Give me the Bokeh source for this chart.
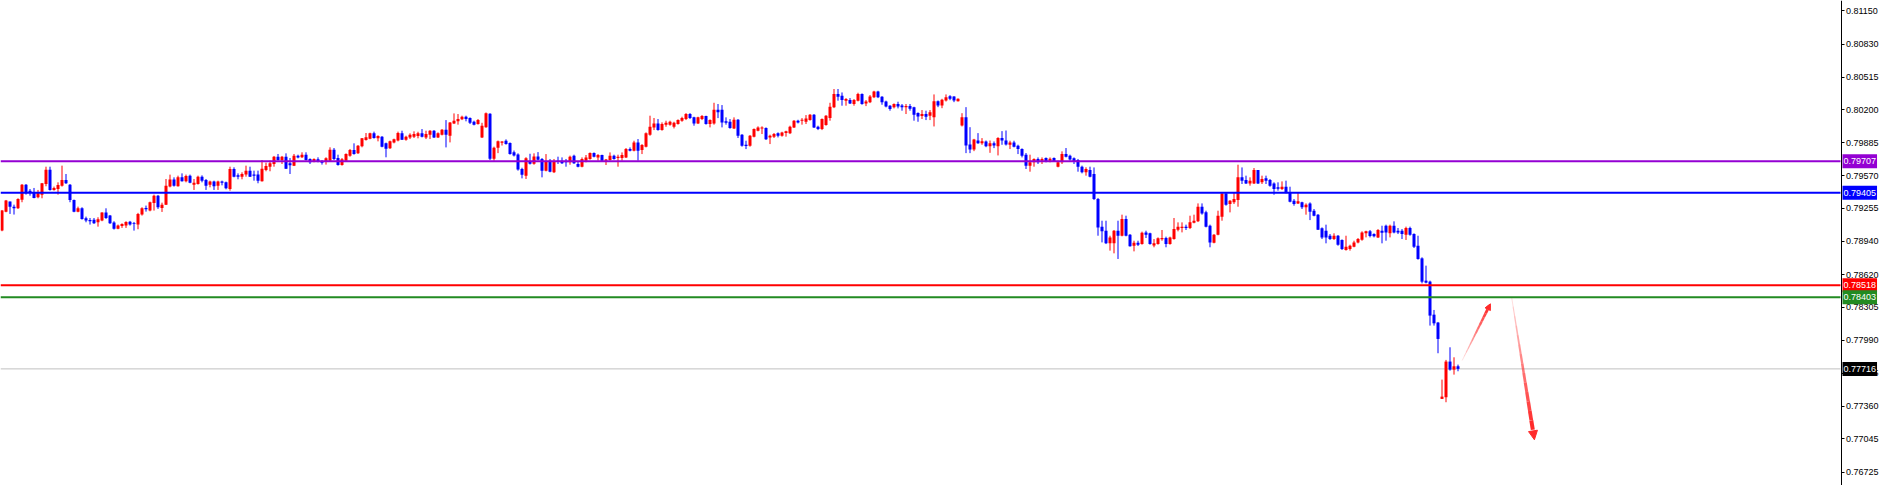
from bokeh.plotting import figure
from bokeh.models import (Range1d, FixedTicker, PrintfTickFormatter, Span, Label, Arrow,
                          NormalHead, BoxAnnotation)
from bokeh.embed import file_html
from bokeh.resources import INLINE

# ---- OHLC data (one bar per candle, oldest first) ----
open_ = [
    0.79042, 0.79224, 0.79320, 0.79272, 0.79256, 0.79339, 0.79483, 0.79425, 0.79403, 0.79361,
    0.79387, 0.79489, 0.79626, 0.79432, 0.79441, 0.79473, 0.79527, 0.79483, 0.79336, 0.79224,
    0.79256, 0.79160, 0.79144, 0.79147, 0.79122, 0.79138, 0.79215, 0.79186, 0.79119, 0.79061,
    0.79087, 0.79090, 0.79128, 0.79112, 0.79100, 0.79196, 0.79259, 0.79234, 0.79307, 0.79377,
    0.79259, 0.79291, 0.79464, 0.79531, 0.79467, 0.79553, 0.79515, 0.79569, 0.79483, 0.79489,
    0.79559, 0.79527, 0.79483, 0.79512, 0.79473, 0.79512, 0.79505, 0.79441, 0.79633, 0.79572,
    0.79559, 0.79579, 0.79617, 0.79579, 0.79579, 0.79515, 0.79623, 0.79655, 0.79681, 0.79751,
    0.79719, 0.79751, 0.79687, 0.79665, 0.79761, 0.79745, 0.79770, 0.79729, 0.79706, 0.79726,
    0.79706, 0.79703, 0.79713, 0.79818, 0.79738, 0.79671, 0.79713, 0.79761, 0.79815, 0.79783,
    0.79850, 0.79911, 0.79924, 0.79975, 0.79927, 0.79943, 0.79879, 0.79831, 0.79886, 0.79905,
    0.79975, 0.79914, 0.79936, 0.79943, 0.79949, 0.79975, 0.79936, 0.79962, 0.80000, 0.79936,
    0.79962, 0.80010, 0.79952, 0.80070, 0.80090, 0.80109, 0.80134, 0.80121, 0.80086, 0.80064,
    0.79936, 0.80034, 0.80162, 0.79731, 0.79836, 0.79884, 0.79904, 0.79882, 0.79794, 0.79772,
    0.79633, 0.79569, 0.79702, 0.79683, 0.79753, 0.79729, 0.79617, 0.79713, 0.79601, 0.79713,
    0.79713, 0.79713, 0.79697, 0.79761, 0.79681, 0.79655, 0.79713, 0.79729, 0.79786, 0.79744,
    0.79767, 0.79713, 0.79719, 0.79761, 0.79738, 0.79738, 0.79744, 0.79824, 0.79808, 0.79888,
    0.79815, 0.79847, 0.79962, 0.80032, 0.80070, 0.80006, 0.80058, 0.80058, 0.80038, 0.80064,
    0.80096, 0.80112, 0.80160, 0.80128, 0.80070, 0.80112, 0.80141, 0.80064, 0.80070, 0.80201,
    0.80201, 0.80090, 0.80086, 0.80022, 0.80105, 0.79962, 0.79866, 0.79856, 0.79943, 0.80000,
    0.80022, 0.80026, 0.79936, 0.79943, 0.79975, 0.79952, 0.79978, 0.79975, 0.80032, 0.80096,
    0.80096, 0.80086, 0.80102, 0.80153, 0.80038, 0.80016, 0.80054, 0.80121, 0.80224, 0.80352,
    0.80336, 0.80288, 0.80294, 0.80256, 0.80288, 0.80352, 0.80262, 0.80272, 0.80320, 0.80377,
    0.80326, 0.80281, 0.80240, 0.80224, 0.80256, 0.80243, 0.80224, 0.80236, 0.80224, 0.80169,
    0.80141, 0.80160, 0.80144, 0.80130, 0.80283, 0.80242, 0.80290, 0.80331, 0.80328, 0.80283,
    0.80050, 0.80130, 0.79868, 0.79820, 0.79906, 0.79881, 0.79897, 0.79852, 0.79881, 0.79852,
    0.79929, 0.79906, 0.79866, 0.79888, 0.79856, 0.79824, 0.79770, 0.79665, 0.79697, 0.79729,
    0.79713, 0.79738, 0.79713, 0.79738, 0.79655, 0.79697, 0.79776, 0.79760, 0.79735, 0.79719,
    0.79655, 0.79601, 0.79623, 0.79584, 0.79345, 0.79080, 0.79041, 0.78920, 0.78920, 0.79041,
    0.78993, 0.79153, 0.79003, 0.78897, 0.78926, 0.78913, 0.79025, 0.79016, 0.78900, 0.78913,
    0.78958, 0.78971, 0.78913, 0.78961, 0.79051, 0.79067, 0.79080, 0.79067, 0.79118, 0.79131,
    0.79271, 0.79217, 0.79089, 0.78926, 0.79003, 0.79175, 0.79399, 0.79297, 0.79313, 0.79335,
    0.79553, 0.79527, 0.79495, 0.79495, 0.79623, 0.79505, 0.79543, 0.79527, 0.79495, 0.79457,
    0.79441, 0.79463, 0.79409, 0.79329, 0.79303, 0.79313, 0.79265, 0.79303, 0.79233, 0.79195,
    0.79064, 0.79041, 0.78993, 0.78961, 0.78993, 0.78952, 0.78856, 0.78866, 0.78888, 0.78929,
    0.78955, 0.79016, 0.79035, 0.79009, 0.78977, 0.79041, 0.79089, 0.79016, 0.79089, 0.79041,
    0.79041, 0.79003, 0.79067, 0.79009, 0.78897, 0.78776, 0.78562, 0.78553, 0.78236, 0.78160,
    0.77428, 0.77444, 0.77786, 0.77709, 0.77741,
]
high = [
    0.79240, 0.79336, 0.79320, 0.79291, 0.79352, 0.79489, 0.79489, 0.79441, 0.79451, 0.79432,
    0.79499, 0.79655, 0.79655, 0.79464, 0.79505, 0.79665, 0.79585, 0.79489, 0.79340, 0.79272,
    0.79266, 0.79176, 0.79163, 0.79163, 0.79170, 0.79218, 0.79256, 0.79192, 0.79132, 0.79100,
    0.79112, 0.79132, 0.79135, 0.79125, 0.79212, 0.79266, 0.79282, 0.79320, 0.79387, 0.79384,
    0.79310, 0.79537, 0.79579, 0.79553, 0.79569, 0.79591, 0.79579, 0.79579, 0.79537, 0.79569,
    0.79572, 0.79537, 0.79521, 0.79521, 0.79521, 0.79521, 0.79512, 0.79655, 0.79649, 0.79591,
    0.79601, 0.79665, 0.79655, 0.79617, 0.79617, 0.79719, 0.79694, 0.79713, 0.79758, 0.79777,
    0.79758, 0.79783, 0.79738, 0.79777, 0.79770, 0.79793, 0.79793, 0.79735, 0.79735, 0.79745,
    0.79719, 0.79745, 0.79841, 0.79834, 0.79770, 0.79738, 0.79783, 0.79825, 0.79879, 0.79863,
    0.79930, 0.79978, 0.79981, 0.79991, 0.79956, 0.79949, 0.79886, 0.79905, 0.79924, 0.79991,
    0.80000, 0.79952, 0.79975, 0.79994, 0.79990, 0.80016, 0.80000, 0.80006, 0.80006, 0.79984,
    0.80016, 0.80102, 0.80083, 0.80166, 0.80160, 0.80144, 0.80144, 0.80128, 0.80096, 0.80112,
    0.80076, 0.80175, 0.80168, 0.79847, 0.79906, 0.79900, 0.79917, 0.79888, 0.79810, 0.79783,
    0.79645, 0.79746, 0.79779, 0.79783, 0.79795, 0.79738, 0.79776, 0.79729, 0.79729, 0.79751,
    0.79744, 0.79729, 0.79761, 0.79770, 0.79706, 0.79744, 0.79767, 0.79792, 0.79792, 0.79776,
    0.79770, 0.79729, 0.79792, 0.79770, 0.79770, 0.79792, 0.79834, 0.79840, 0.79904, 0.79920,
    0.79872, 0.79984, 0.80144, 0.80122, 0.80112, 0.80080, 0.80096, 0.80096, 0.80086, 0.80109,
    0.80134, 0.80169, 0.80169, 0.80134, 0.80134, 0.80150, 0.80144, 0.80109, 0.80268, 0.80256,
    0.80246, 0.80128, 0.80112, 0.80128, 0.80112, 0.79968, 0.79904, 0.79959, 0.80022, 0.80042,
    0.80042, 0.80032, 0.79962, 0.79978, 0.79984, 0.79990, 0.80000, 0.80048, 0.80102, 0.80105,
    0.80121, 0.80150, 0.80160, 0.80160, 0.80048, 0.80118, 0.80150, 0.80268, 0.80400, 0.80400,
    0.80367, 0.80313, 0.80313, 0.80304, 0.80364, 0.80358, 0.80294, 0.80342, 0.80383, 0.80383,
    0.80332, 0.80288, 0.80246, 0.80262, 0.80278, 0.80256, 0.80256, 0.80256, 0.80230, 0.80176,
    0.80198, 0.80192, 0.80198, 0.80348, 0.80290, 0.80306, 0.80348, 0.80341, 0.80331, 0.80310,
    0.80168, 0.80226, 0.80034, 0.79922, 0.79977, 0.79929, 0.79906, 0.79906, 0.79897, 0.79938,
    0.79996, 0.80002, 0.79904, 0.79904, 0.79866, 0.79831, 0.79786, 0.79770, 0.79735, 0.79744,
    0.79744, 0.79744, 0.79744, 0.79744, 0.79713, 0.79802, 0.79834, 0.79770, 0.79744, 0.79729,
    0.79665, 0.79649, 0.79655, 0.79648, 0.79355, 0.79137, 0.79137, 0.78993, 0.79048, 0.79137,
    0.79195, 0.79185, 0.79009, 0.78945, 0.78945, 0.79032, 0.79041, 0.79022, 0.78961, 0.78977,
    0.79048, 0.78984, 0.78984, 0.79163, 0.79121, 0.79121, 0.79099, 0.79185, 0.79195, 0.79303,
    0.79303, 0.79233, 0.79099, 0.79009, 0.79233, 0.79406, 0.79409, 0.79335, 0.79409, 0.79674,
    0.79648, 0.79569, 0.79553, 0.79642, 0.79623, 0.79569, 0.79569, 0.79537, 0.79505, 0.79505,
    0.79514, 0.79521, 0.79463, 0.79345, 0.79409, 0.79319, 0.79303, 0.79313, 0.79249, 0.79201,
    0.79073, 0.79099, 0.79009, 0.79016, 0.79000, 0.78958, 0.78993, 0.78907, 0.78945, 0.78971,
    0.79035, 0.79041, 0.79048, 0.79016, 0.79057, 0.79089, 0.79099, 0.79099, 0.79131, 0.79067,
    0.79057, 0.79080, 0.79080, 0.79016, 0.78993, 0.78786, 0.78706, 0.78562, 0.78281, 0.78166,
    0.77613, 0.77802, 0.77923, 0.77827, 0.77757,
]
low = [
    0.79036, 0.79218, 0.79202, 0.79196, 0.79250, 0.79314, 0.79387, 0.79377, 0.79352, 0.79352,
    0.79352, 0.79467, 0.79425, 0.79425, 0.79387, 0.79464, 0.79489, 0.79314, 0.79218, 0.79218,
    0.79147, 0.79122, 0.79100, 0.79106, 0.79080, 0.79132, 0.79154, 0.79106, 0.79052, 0.79055,
    0.79068, 0.79068, 0.79090, 0.79042, 0.79055, 0.79186, 0.79224, 0.79227, 0.79234, 0.79250,
    0.79221, 0.79288, 0.79457, 0.79464, 0.79464, 0.79512, 0.79505, 0.79496, 0.79432, 0.79483,
    0.79505, 0.79432, 0.79457, 0.79432, 0.79432, 0.79476, 0.79438, 0.79425, 0.79553, 0.79534,
    0.79534, 0.79559, 0.79556, 0.79521, 0.79496, 0.79512, 0.79611, 0.79611, 0.79655, 0.79713,
    0.79681, 0.79633, 0.79585, 0.79661, 0.79735, 0.79738, 0.79713, 0.79681, 0.79697, 0.79697,
    0.79675, 0.79675, 0.79706, 0.79719, 0.79665, 0.79665, 0.79703, 0.79751, 0.79770, 0.79777,
    0.79841, 0.79905, 0.79918, 0.79924, 0.79898, 0.79841, 0.79745, 0.79825, 0.79879, 0.79898,
    0.79911, 0.79904, 0.79920, 0.79930, 0.79927, 0.79936, 0.79920, 0.79920, 0.79930, 0.79930,
    0.79955, 0.79840, 0.79888, 0.80064, 0.80058, 0.80102, 0.80090, 0.80064, 0.80051, 0.80058,
    0.79930, 0.80028, 0.79719, 0.79713, 0.79785, 0.79858, 0.79866, 0.79770, 0.79753, 0.79617,
    0.79543, 0.79537, 0.79676, 0.79674, 0.79715, 0.79553, 0.79610, 0.79601, 0.79594, 0.79681,
    0.79681, 0.79655, 0.79674, 0.79681, 0.79649, 0.79649, 0.79697, 0.79722, 0.79744, 0.79713,
    0.79706, 0.79671, 0.79713, 0.79722, 0.79655, 0.79713, 0.79738, 0.79802, 0.79802, 0.79713,
    0.79776, 0.79840, 0.79952, 0.80006, 0.80000, 0.80000, 0.80038, 0.80048, 0.80022, 0.80058,
    0.80086, 0.80102, 0.80112, 0.80048, 0.80064, 0.80102, 0.80058, 0.80032, 0.80058, 0.80121,
    0.80032, 0.80058, 0.80019, 0.80016, 0.79930, 0.79847, 0.79824, 0.79847, 0.79936, 0.79994,
    0.79968, 0.79911, 0.79872, 0.79930, 0.79936, 0.79943, 0.79943, 0.79968, 0.80026, 0.80070,
    0.80058, 0.80064, 0.80096, 0.80026, 0.80006, 0.80006, 0.80048, 0.80096, 0.80217, 0.80288,
    0.80240, 0.80240, 0.80256, 0.80240, 0.80281, 0.80249, 0.80236, 0.80265, 0.80313, 0.80313,
    0.80249, 0.80224, 0.80192, 0.80214, 0.80214, 0.80192, 0.80160, 0.80192, 0.80096, 0.80086,
    0.80112, 0.80102, 0.80102, 0.80041, 0.80226, 0.80216, 0.80280, 0.80293, 0.80274, 0.80280,
    0.80041, 0.79785, 0.79785, 0.79804, 0.79874, 0.79865, 0.79842, 0.79788, 0.79833, 0.79763,
    0.79865, 0.79858, 0.79824, 0.79840, 0.79776, 0.79744, 0.79633, 0.79607, 0.79655, 0.79681,
    0.79681, 0.79697, 0.79697, 0.79700, 0.79649, 0.79681, 0.79744, 0.79713, 0.79681, 0.79607,
    0.79591, 0.79569, 0.79553, 0.79335, 0.78993, 0.78929, 0.78913, 0.78850, 0.78824, 0.78770,
    0.78987, 0.78987, 0.78888, 0.78843, 0.78894, 0.78907, 0.78971, 0.78907, 0.78882, 0.78907,
    0.78945, 0.78882, 0.78907, 0.78955, 0.79035, 0.79025, 0.79048, 0.79057, 0.79112, 0.79124,
    0.79195, 0.79073, 0.78882, 0.78920, 0.78997, 0.79137, 0.79281, 0.79217, 0.79297, 0.79271,
    0.79489, 0.79489, 0.79473, 0.79489, 0.79489, 0.79489, 0.79489, 0.79463, 0.79386, 0.79425,
    0.79431, 0.79399, 0.79313, 0.79281, 0.79297, 0.79249, 0.79195, 0.79143, 0.79179, 0.79048,
    0.78961, 0.78920, 0.78952, 0.78952, 0.78897, 0.78856, 0.78850, 0.78850, 0.78882, 0.78920,
    0.78945, 0.78977, 0.78977, 0.78977, 0.78971, 0.78920, 0.78945, 0.78977, 0.79016, 0.79009,
    0.78961, 0.78952, 0.78993, 0.78875, 0.78763, 0.78536, 0.78536, 0.78131, 0.78131, 0.77866,
    0.77428, 0.77396, 0.77699, 0.77661, 0.77693,
]
close = [
    0.79234, 0.79330, 0.79272, 0.79256, 0.79346, 0.79483, 0.79400, 0.79409, 0.79355, 0.79403,
    0.79496, 0.79626, 0.79432, 0.79451, 0.79480, 0.79527, 0.79496, 0.79336, 0.79224, 0.79256,
    0.79154, 0.79138, 0.79132, 0.79112, 0.79151, 0.79215, 0.79163, 0.79112, 0.79061, 0.79090,
    0.79106, 0.79125, 0.79100, 0.79106, 0.79202, 0.79256, 0.79246, 0.79314, 0.79377, 0.79266,
    0.79291, 0.79473, 0.79531, 0.79473, 0.79553, 0.79515, 0.79566, 0.79502, 0.79502, 0.79559,
    0.79521, 0.79473, 0.79512, 0.79467, 0.79512, 0.79502, 0.79448, 0.79633, 0.79559, 0.79559,
    0.79585, 0.79617, 0.79559, 0.79569, 0.79521, 0.79636, 0.79661, 0.79687, 0.79751, 0.79719,
    0.79751, 0.79636, 0.79668, 0.79761, 0.79742, 0.79770, 0.79719, 0.79697, 0.79729, 0.79706,
    0.79694, 0.79735, 0.79818, 0.79729, 0.79671, 0.79726, 0.79777, 0.79815, 0.79777, 0.79857,
    0.79927, 0.79937, 0.79975, 0.79930, 0.79949, 0.79847, 0.79828, 0.79898, 0.79918, 0.79978,
    0.79914, 0.79943, 0.79962, 0.79968, 0.79975, 0.79943, 0.79968, 0.80000, 0.79936, 0.79975,
    0.80010, 0.79962, 0.80080, 0.80096, 0.80112, 0.80134, 0.80112, 0.80077, 0.80058, 0.80102,
    0.80048, 0.80168, 0.79731, 0.79836, 0.79900, 0.79897, 0.79872, 0.79776, 0.79763, 0.79628,
    0.79578, 0.79737, 0.79683, 0.79753, 0.79721, 0.79617, 0.79706, 0.79607, 0.79703, 0.79703,
    0.79687, 0.79697, 0.79751, 0.79687, 0.79655, 0.79729, 0.79744, 0.79786, 0.79751, 0.79767,
    0.79713, 0.79725, 0.79761, 0.79729, 0.79751, 0.79767, 0.79824, 0.79808, 0.79888, 0.79808,
    0.79863, 0.79975, 0.80038, 0.80070, 0.80006, 0.80064, 0.80077, 0.80086, 0.80077, 0.80102,
    0.80121, 0.80160, 0.80121, 0.80070, 0.80128, 0.80141, 0.80064, 0.80102, 0.80201, 0.80176,
    0.80080, 0.80077, 0.80026, 0.80105, 0.79952, 0.79856, 0.79853, 0.79952, 0.80016, 0.80032,
    0.80032, 0.79917, 0.79952, 0.79968, 0.79952, 0.79984, 0.79994, 0.80038, 0.80096, 0.80080,
    0.80106, 0.80118, 0.80153, 0.80032, 0.80016, 0.80112, 0.80144, 0.80230, 0.80352, 0.80326,
    0.80294, 0.80304, 0.80262, 0.80294, 0.80352, 0.80256, 0.80281, 0.80329, 0.80377, 0.80320,
    0.80272, 0.80233, 0.80208, 0.80256, 0.80233, 0.80224, 0.80236, 0.80211, 0.80153, 0.80137,
    0.80160, 0.80134, 0.80176, 0.80283, 0.80242, 0.80297, 0.80322, 0.80306, 0.80290, 0.80306,
    0.80130, 0.79858, 0.79820, 0.79916, 0.79881, 0.79900, 0.79852, 0.79881, 0.79858, 0.79929,
    0.79906, 0.79868, 0.79888, 0.79847, 0.79824, 0.79760, 0.79665, 0.79697, 0.79729, 0.79697,
    0.79729, 0.79706, 0.79732, 0.79706, 0.79697, 0.79776, 0.79751, 0.79725, 0.79706, 0.79655,
    0.79601, 0.79633, 0.79559, 0.79345, 0.79073, 0.79035, 0.78920, 0.78977, 0.79041, 0.78993,
    0.79153, 0.78993, 0.78891, 0.78926, 0.78907, 0.79022, 0.79003, 0.78913, 0.78920, 0.78968,
    0.78971, 0.78913, 0.78977, 0.79057, 0.79080, 0.79080, 0.79067, 0.79121, 0.79137, 0.79271,
    0.79207, 0.79080, 0.78929, 0.79003, 0.79185, 0.79399, 0.79291, 0.79329, 0.79345, 0.79553,
    0.79521, 0.79495, 0.79521, 0.79623, 0.79495, 0.79537, 0.79521, 0.79473, 0.79441, 0.79444,
    0.79463, 0.79409, 0.79319, 0.79297, 0.79323, 0.79265, 0.79291, 0.79223, 0.79185, 0.79051,
    0.78977, 0.78977, 0.78961, 0.78993, 0.78907, 0.78866, 0.78888, 0.78897, 0.78929, 0.78961,
    0.79025, 0.79035, 0.78990, 0.78987, 0.79048, 0.79022, 0.79025, 0.79089, 0.79025, 0.79025,
    0.79009, 0.79067, 0.79003, 0.78888, 0.78770, 0.78552, 0.78543, 0.78227, 0.78153, 0.78003,
    0.77450, 0.77786, 0.77709, 0.77741, 0.77716,
]

# ---- right price scale ----
price_ticks = [0.81150, 0.80830, 0.80515, 0.80200, 0.79885, 0.79570, 0.79255, 0.78940,
               0.78620, 0.78305, 0.77990, 0.77675, 0.77360, 0.77045, 0.76725]

# ---- horizontal levels ----
level_prices = [0.79707, 0.79405, 0.78518, 0.78403]
level_colors = ["#9400D3", "#0000FF", "#FF0000", "#228B22"]
last_price = 0.77716

# ---- hand-drawn arrows (bar index, price) ----
arrow_up_x = [366.05, 373.1]
arrow_up_y = [0.77797, 0.78340]
arrow_down_x = [378.4, 384.1]
arrow_down_y = [0.78404, 0.77036]

BULL = "#FF0000"
BEAR = "#0000FF"
SCALE_X = 460.625      # bar-index position of the price scale line

n = len(close)
idx = list(range(1, n + 1))
colors = [BULL if c >= o else BEAR for o, c in zip(open_, close)]
tops = [max(o, c) for o, c in zip(open_, close)]
bots = [min(o, c) for o, c in zip(open_, close)]

p = figure(width=1887, height=485, output_backend="svg", toolbar_location=None,
           x_axis_location=None, y_axis_location="right",
           x_range=Range1d(0.625, 472.375), y_range=Range1d(0.765976, 0.812488),
           min_border_left=0, min_border_top=0, min_border_bottom=0, min_border_right=0)
p.outline_line_color = None
p.grid.visible = False
p.background_fill_color = "white"
p.border_fill_color = "white"

p.segment(x0=idx, y0=low, x1=idx, y1=high, line_color=colors, line_width=1)
p.vbar(x=idx, width=0.75, top=tops, bottom=bots, fill_color=colors, line_color=None)

# level lines
p.add_layout(Span(location=last_price, dimension="width", line_color="#C0C0C0",
                  line_width=1, level="underlay"))
for lp, lc in zip(level_prices, level_colors):
    p.add_layout(Span(location=lp, dimension="width", line_color=lc, line_width=2,
                      level="glyph"))

# blank price-scale strip right of the scale line
p.add_layout(BoxAnnotation(left=SCALE_X, fill_color="white", fill_alpha=1.0,
                           line_color=None, level="glyph"))

ax = p.yaxis[0]
ax.fixed_location = SCALE_X + 0.125
ax.ticker = FixedTicker(ticks=price_ticks)
ax.formatter = PrintfTickFormatter(format="%.5f")
ax.major_tick_in = 0
ax.major_tick_out = 3
ax.minor_tick_line_color = None
ax.axis_line_color = "black"
ax.major_tick_line_color = "black"
ax.major_label_text_font = "Liberation Sans"
ax.major_label_text_font_size = "9px"
ax.major_label_text_color = "black"
ax.major_label_standoff = 2

# price tags on the scale
for lp, lc in zip(level_prices + [last_price], level_colors + ["#000000"]):
    p.add_layout(Label(x=SCALE_X, y=lp, x_offset=2, text=f"{lp:.5f}", text_color="white",
                       text_font="Liberation Sans", text_font_size="9px",
                       text_baseline="middle", text_align="left",
                       background_fill_color=lc, padding=(1, 4)))

# tapered red arrows
ARROW = "#FF2A2A"
def tapered(xs, ys, w0, w1, stop):
    N = 14
    x0s, y0s, x1s, y1s, ws, als = [], [], [], [], [], []
    for i in range(N):
        t0 = stop * i / N
        t1 = stop * (i + 1) / N
        x0s.append(xs[0] + (xs[1] - xs[0]) * t0)
        y0s.append(ys[0] + (ys[1] - ys[0]) * t0)
        x1s.append(xs[0] + (xs[1] - xs[0]) * t1)
        y1s.append(ys[0] + (ys[1] - ys[0]) * t1)
        f = (i + 1) / N
        ws.append(w0 + (w1 - w0) * f)
        als.append(0.12 + 0.88 * f)
    p.segment(x0=x0s, y0=y0s, x1=x1s, y1=y1s, line_color=ARROW, line_width=ws,
              line_alpha=als, line_cap="butt")

tapered(arrow_up_x, arrow_up_y, 0.6, 3.0, 0.97)
tapered(arrow_down_x, arrow_down_y, 0.6, 4.0, 0.93)
p.add_layout(Arrow(end=NormalHead(size=6, fill_color=ARROW, line_color=ARROW),
                   x_start=arrow_up_x[0], y_start=arrow_up_y[0],
                   x_end=arrow_up_x[1], y_end=arrow_up_y[1], line_alpha=0))
p.add_layout(Arrow(end=NormalHead(size=9, fill_color=ARROW, line_color=ARROW),
                   x_start=arrow_down_x[0], y_start=arrow_down_y[0],
                   x_end=arrow_down_x[1], y_end=arrow_down_y[1], line_alpha=0))

open("out.html", "w").write(file_html(p, INLINE))
